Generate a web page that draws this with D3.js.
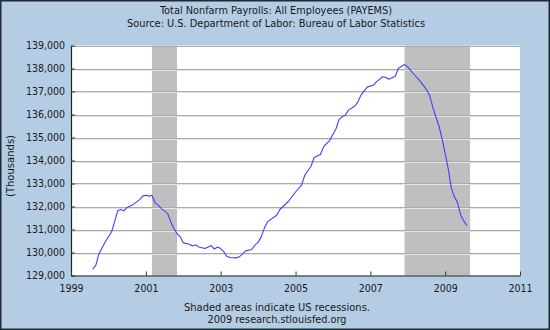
<!DOCTYPE html>
<html>
<head>
<meta charset="utf-8">
<script src="https://cdn.jsdelivr.net/npm/d3@7"></script>
<style>
  html, body { margin: 0; padding: 0; background: #b4cce4; }
  svg { display: block; }
  text { font-family: Tahoma, "DejaVu Sans Condensed", "DejaVu Sans", sans-serif; fill: #1a1a1a; }
</style>
</head>
<body>
<svg id="chart" width="550" height="330"></svg>
<script>
// Total nonfarm payrolls, monthly, thousands of persons
const months = [
  "1999-08","1999-09","1999-10","1999-12","2000-02","2000-03","2000-04","2000-05","2000-06","2000-07",
  "2000-08","2000-09","2000-11","2000-12","2001-01","2001-02","2001-03","2001-04","2001-05","2001-06",
  "2001-08","2001-09","2001-10","2001-11","2001-12","2002-01","2002-03","2002-04","2002-05","2002-06",
  "2002-08","2002-09","2002-10","2002-11","2002-12","2003-01","2003-02","2003-03","2003-04","2003-06",
  "2003-07","2003-08","2003-09","2003-11","2003-12","2004-01","2004-02","2004-03","2004-04","2004-07",
  "2004-08","2004-10","2004-11","2005-01","2005-03","2005-04","2005-06","2005-07","2005-09","2005-10",
  "2005-12","2006-02","2006-03","2006-04","2006-05","2006-06","2006-08","2006-09","2006-10","2006-12",
  "2007-02","2007-03","2007-05","2007-06","2007-07","2007-09","2007-10","2007-12","2008-01","2008-03",
  "2008-05","2008-07","2008-08","2008-09","2008-10","2008-11","2008-12","2009-01","2009-02","2009-03",
  "2009-04","2009-05","2009-06","2009-07","2009-08"
];
const payems = [
  129270,129450,129950,130460,130900,131330,131810,131870,131810,131960,
  132020,132090,132300,132450,132490,132450,132490,132160,132060,131910,
  131700,131330,131040,130820,130680,130420,130360,130280,130330,130240,
  130170,130240,130300,130150,130240,130170,130030,129840,129780,129765,
  129810,129930,130070,130130,130320,130440,130680,131040,131330,131620,
  131870,132130,132270,132630,132930,133360,133750,134130,134260,134590,
  134880,135390,135780,135900,135970,136190,136360,136540,136840,137190,
  137280,137420,137640,137610,137530,137660,138000,138170,138070,137750,
  137450,137090,136840,136330,135900,135500,134950,134300,133600,132800,
  132420,132170,131620,131380,131170
];

// NBER recessions
const recessionStarts = ["2001-03", "2007-12"];
const recessionEnds   = ["2001-11", "2009-09"];

const xTickYears = [1999, 2001, 2003, 2005, 2007, 2009, 2011];
const yTickValues = [129000,130000,131000,132000,133000,134000,135000,136000,137000,138000,139000];

const titleLines = [
  "Total Nonfarm Payrolls: All Employees (PAYEMS)",
  "Source: U.S. Department of Labor: Bureau of Labor Statistics"
];
const footLines = [
  "Shaded areas indicate US recessions.",
  "2009 research.stlouisfed.org"
];
const yAxisLabel = "(Thousands)";

const W = 550, H = 330;
const plot = { left: 71, right: 520, top: 45.5, bottom: 275.5 };

const parseMonth = d3.timeParse("%Y-%m");
const series = months.map((m, i) => ({ date: parseMonth(m), value: payems[i] }));
const recessions = recessionStarts.map((s, i) => ({ start: parseMonth(s), end: parseMonth(recessionEnds[i]) }));

const x = d3.scaleTime()
  .domain([new Date(1999, 0, 1), new Date(2011, 0, 1)])
  .range([plot.left, plot.right]);
const y = d3.scaleLinear()
  .domain([129000, 139000])
  .range([plot.bottom, plot.top]);

const svg = d3.select("#chart");

// page background and frame
svg.append("rect").attr("x", 0).attr("y", 0).attr("width", W).attr("height", H).attr("fill", "#b4cce4");
svg.append("rect").attr("x", 0.75).attr("y", 0.75).attr("width", W - 1.5).attr("height", H - 1.5)
  .attr("fill", "none").attr("stroke", "#1e2a36").attr("stroke-width", 1.5);

// plot area
svg.append("rect")
  .attr("x", plot.left).attr("y", plot.top)
  .attr("width", plot.right - plot.left).attr("height", plot.bottom - plot.top)
  .attr("fill", "#ffffff");

// recession shading
svg.append("g").selectAll("rect").data(recessions).join("rect")
  .attr("x", d => x(d.start))
  .attr("width", d => x(d.end) - x(d.start))
  .attr("y", plot.top)
  .attr("height", plot.bottom - plot.top)
  .attr("fill", "#bfbfbf");

// horizontal gridlines (dark line with a light line below)
const grid = svg.append("g");
grid.selectAll("line.g1").data(yTickValues.slice(1)).join("line")
  .attr("class", "g1")
  .attr("x1", plot.left).attr("x2", plot.right)
  .attr("y1", d => Math.round(y(d)) + 0.5).attr("y2", d => Math.round(y(d)) + 0.5)
  .attr("stroke", "#ababab").attr("stroke-width", 1);
grid.selectAll("line.g2").data(yTickValues.slice(1, -1)).join("line")
  .attr("class", "g2")
  .attr("x1", plot.left).attr("x2", plot.right)
  .attr("y1", d => Math.round(y(d)) + 1.5).attr("y2", d => Math.round(y(d)) + 1.5)
  .attr("stroke", "#e4e4e4").attr("stroke-width", 1);

// data line
const line = d3.line().x(d => x(d.date)).y(d => y(d.value));
svg.append("path")
  .datum(series)
  .attr("d", line)
  .attr("fill", "none")
  .attr("stroke", "#4040ff")
  .attr("stroke-width", 1.1)
  .attr("stroke-linejoin", "round");

// y axis
const yAxis = d3.axisLeft(y)
  .tickValues(yTickValues)
  .tickSizeInner(-4).tickSizeOuter(0)
  .tickPadding(6)
  .tickFormat(d3.format(","));
const gy = svg.append("g").attr("transform", `translate(${plot.left},0)`).call(yAxis);
gy.select(".domain").attr("stroke", "#222").attr("stroke-width", 1.2);
gy.selectAll(".tick line").attr("stroke", "#333");
gy.selectAll(".tick text").attr("font-size", 10.5).attr("fill", "#1a1a1a")
  .style("font-family", 'Tahoma, "DejaVu Sans Condensed", "DejaVu Sans", sans-serif');

// x axis
const xAxis = d3.axisBottom(x)
  .tickValues(xTickYears.map(yr => new Date(yr, 0, 1)))
  .tickSizeInner(-4).tickSizeOuter(0)
  .tickPadding(9)
  .tickFormat(d3.timeFormat("%Y"));
const gx = svg.append("g").attr("transform", `translate(0,${plot.bottom})`).call(xAxis);
gx.select(".domain").attr("stroke", "#222").attr("stroke-width", 1.2);
gx.selectAll(".tick line").attr("stroke", "#333");
gx.selectAll(".tick text").attr("font-size", 10.5).attr("fill", "#1a1a1a")
  .style("font-family", 'Tahoma, "DejaVu Sans Condensed", "DejaVu Sans", sans-serif');

// titles
const titleWidths = [232, 298];
svg.append("g").selectAll("text").data(titleLines).join("text")
  .attr("x", 276).attr("y", (d, i) => 14 + i * 12.5)
  .attr("text-anchor", "middle")
  .attr("font-size", 10.5)
  .attr("textLength", (d, i) => titleWidths[i])
  .attr("lengthAdjust", "spacingAndGlyphs")
  .text(d => d);

// footer
const footWidths = [186, 139];
svg.append("g").selectAll("text").data(footLines).join("text")
  .attr("x", 277).attr("y", (d, i) => 310.5 + i * 12.5)
  .attr("text-anchor", "middle")
  .attr("font-size", 10.5)
  .attr("textLength", (d, i) => footWidths[i])
  .attr("lengthAdjust", "spacingAndGlyphs")
  .text(d => d);

// y axis title
svg.append("text")
  .attr("transform", "translate(14,166) rotate(-90)")
  .attr("text-anchor", "middle")
  .attr("font-size", 10.5)
  .attr("textLength", 62)
  .attr("lengthAdjust", "spacingAndGlyphs")
  .text(yAxisLabel);
</script>
</body>
</html>
